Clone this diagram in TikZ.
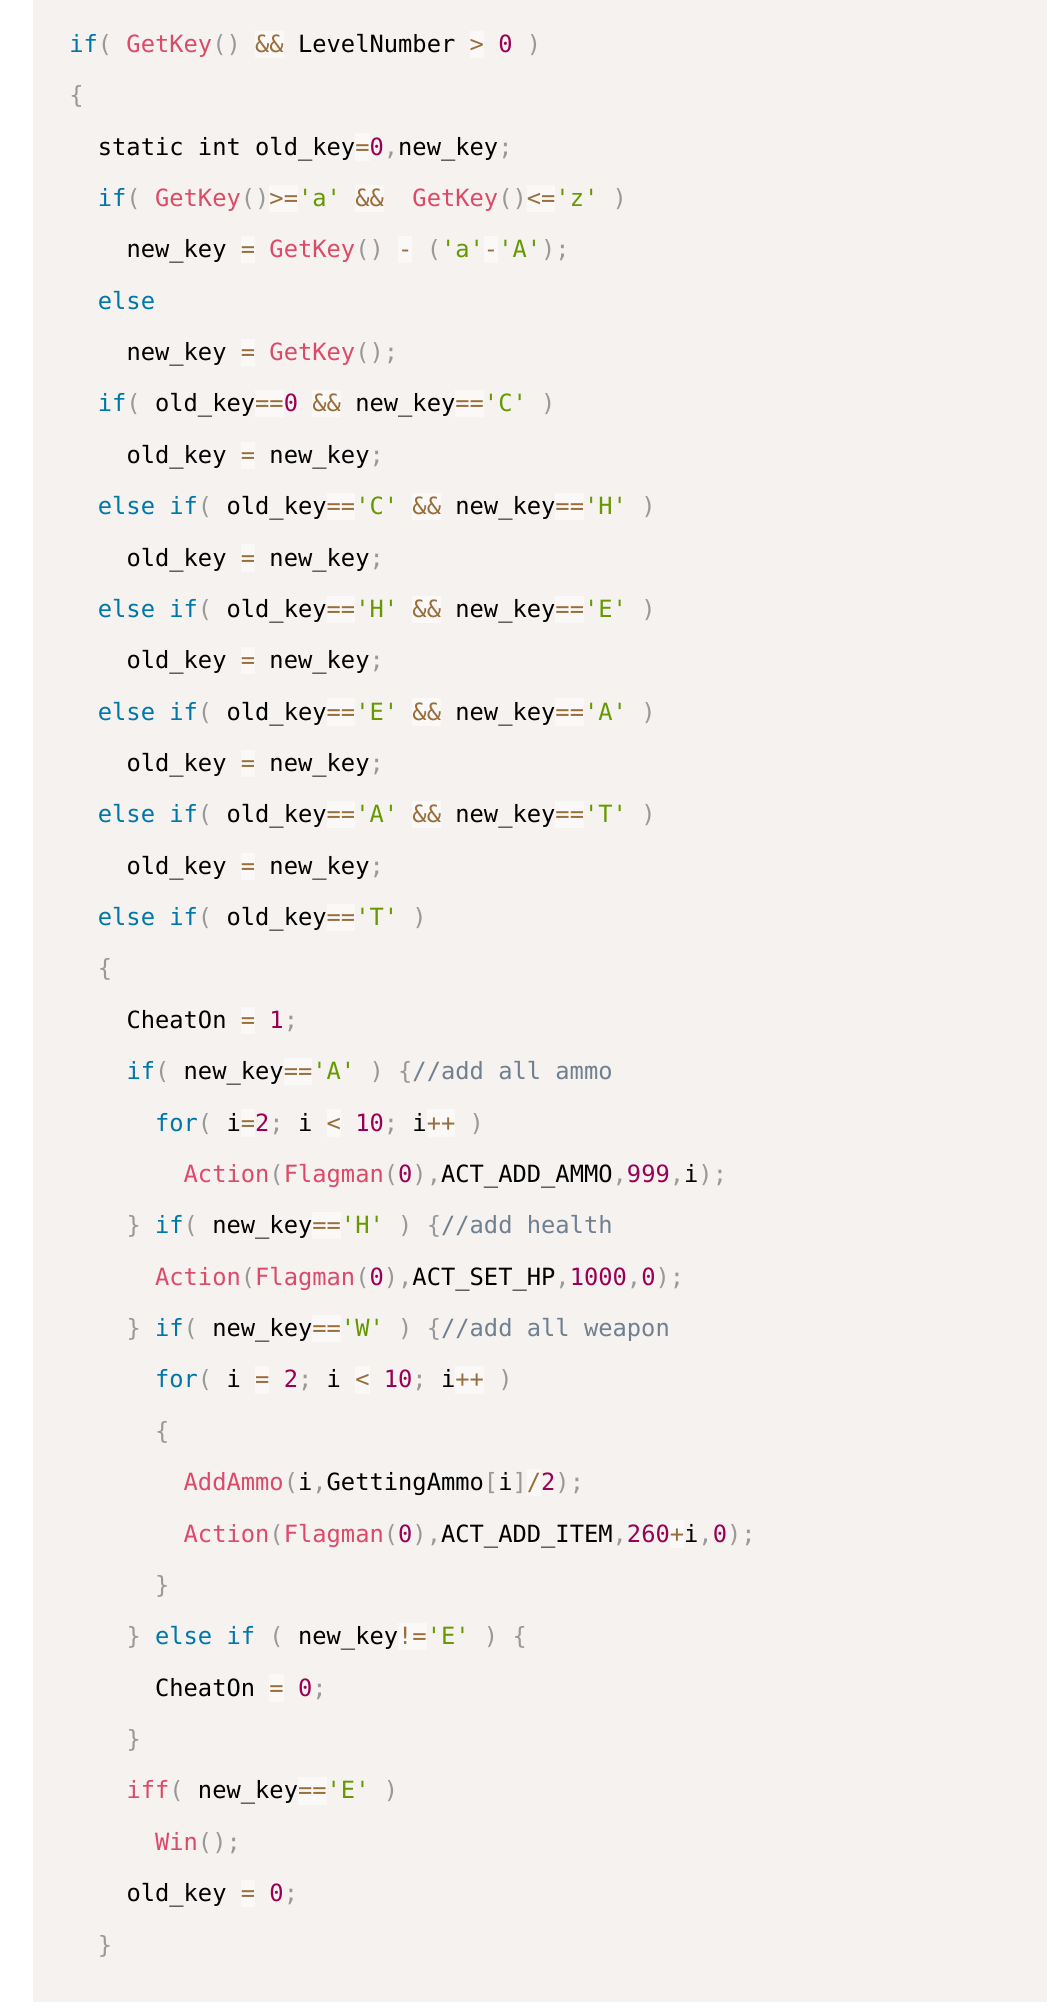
\documentclass[tikz,border=0pt]{standalone}
\usepackage{fontspec}
\setmonofont{DejaVu Sans Mono}
\definecolor{bgc}{HTML}{F5F2F0}
\definecolor{kwc}{HTML}{0077AA}
\definecolor{fnc}{HTML}{DD4A68}
\definecolor{numc}{HTML}{990055}
\definecolor{strc}{HTML}{669900}
\definecolor{opc}{HTML}{9A6E3A}
\definecolor{opbg}{HTML}{FAF9F8}
\definecolor{punc}{HTML}{999999}
\definecolor{comc}{HTML}{708090}
\newcommand\ckw[1]{\textcolor{kwc}{#1}}
\newcommand\cfn[1]{\textcolor{fnc}{#1}}
\newcommand\cnum[1]{\textcolor{numc}{#1}}
\newcommand\cstr[1]{\textcolor{strc}{#1}}
\newcommand\cpun[1]{\textcolor{punc}{#1}}
\newcommand\ccom[1]{\textcolor{comc}{#1}}
\newcommand\cop[1]{{\fboxsep=0pt\colorbox{opbg}{\rule[-5.6pt]{0pt}{27.3pt}\textcolor{opc}{#1}}}}
\newcommand\codeln[3]{\node[codeline] (l#1) at ({69.3+#2*28.6},{-52.3-(#1-1)*51.37}) {#3};}
\tikzset{codeline/.style={anchor=base west,inner sep=0pt,outer sep=0pt,text=black,font=\ttfamily\fontsize{23.75pt}{28pt}\selectfont}}
\begin{document}
\begin{tikzpicture}[x=1pt,y=1pt]
\useasboundingbox (0,0) rectangle (1052,-2008);
\fill[white] (0,0) rectangle (1052,-2008);
\fill[bgc] (32.5,0) rectangle (1046.7,-2002);
\codeln{1}{0}{\ckw{if}\cpun{(} \cfn{GetKey}\cpun{()} \cop{\&\&} LevelNumber \cop{>} \cnum{0} \cpun{)}}
\codeln{2}{0}{\cpun{\{}}
\codeln{3}{1}{static int old\_key\cop{=}\cnum{0}\cpun{,}new\_key\cpun{;}}
\codeln{4}{1}{\ckw{if}\cpun{(} \cfn{GetKey}\cpun{()}\cop{>=}\cstr{'a'} \cop{\&\&}\ \ \cfn{GetKey}\cpun{()}\cop{<=}\cstr{'z'} \cpun{)}}
\codeln{5}{2}{new\_key \cop{=} \cfn{GetKey}\cpun{()} \cop{-} \cpun{(}\cstr{'a'}\cop{-}\cstr{'A'}\cpun{);}}
\codeln{6}{1}{\ckw{else}}
\codeln{7}{2}{new\_key \cop{=} \cfn{GetKey}\cpun{();}}
\codeln{8}{1}{\ckw{if}\cpun{(} old\_key\cop{==}\cnum{0} \cop{\&\&} new\_key\cop{==}\cstr{'C'} \cpun{)}}
\codeln{9}{2}{old\_key \cop{=} new\_key\cpun{;}}
\codeln{10}{1}{\ckw{else} \ckw{if}\cpun{(} old\_key\cop{==}\cstr{'C'} \cop{\&\&} new\_key\cop{==}\cstr{'H'} \cpun{)}}
\codeln{11}{2}{old\_key \cop{=} new\_key\cpun{;}}
\codeln{12}{1}{\ckw{else} \ckw{if}\cpun{(} old\_key\cop{==}\cstr{'H'} \cop{\&\&} new\_key\cop{==}\cstr{'E'} \cpun{)}}
\codeln{13}{2}{old\_key \cop{=} new\_key\cpun{;}}
\codeln{14}{1}{\ckw{else} \ckw{if}\cpun{(} old\_key\cop{==}\cstr{'E'} \cop{\&\&} new\_key\cop{==}\cstr{'A'} \cpun{)}}
\codeln{15}{2}{old\_key \cop{=} new\_key\cpun{;}}
\codeln{16}{1}{\ckw{else} \ckw{if}\cpun{(} old\_key\cop{==}\cstr{'A'} \cop{\&\&} new\_key\cop{==}\cstr{'T'} \cpun{)}}
\codeln{17}{2}{old\_key \cop{=} new\_key\cpun{;}}
\codeln{18}{1}{\ckw{else} \ckw{if}\cpun{(} old\_key\cop{==}\cstr{'T'} \cpun{)}}
\codeln{19}{1}{\cpun{\{}}
\codeln{20}{2}{CheatOn \cop{=} \cnum{1}\cpun{;}}
\codeln{21}{2}{\ckw{if}\cpun{(} new\_key\cop{==}\cstr{'A'} \cpun{)} \cpun{\{}\ccom{//add all ammo}}
\codeln{22}{3}{\ckw{for}\cpun{(} i\cop{=}\cnum{2}\cpun{;} i \cop{<} \cnum{10}\cpun{;} i\cop{++} \cpun{)}}
\codeln{23}{4}{\cfn{Action}\cpun{(}\cfn{Flagman}\cpun{(}\cnum{0}\cpun{),}ACT\_ADD\_AMMO\cpun{,}\cnum{999}\cpun{,}i\cpun{);}}
\codeln{24}{2}{\cpun{\}} \ckw{if}\cpun{(} new\_key\cop{==}\cstr{'H'} \cpun{)} \cpun{\{}\ccom{//add health}}
\codeln{25}{3}{\cfn{Action}\cpun{(}\cfn{Flagman}\cpun{(}\cnum{0}\cpun{),}ACT\_SET\_HP\cpun{,}\cnum{1000}\cpun{,}\cnum{0}\cpun{);}}
\codeln{26}{2}{\cpun{\}} \ckw{if}\cpun{(} new\_key\cop{==}\cstr{'W'} \cpun{)} \cpun{\{}\ccom{//add all weapon}}
\codeln{27}{3}{\ckw{for}\cpun{(} i \cop{=} \cnum{2}\cpun{;} i \cop{<} \cnum{10}\cpun{;} i\cop{++} \cpun{)}}
\codeln{28}{3}{\cpun{\{}}
\codeln{29}{4}{\cfn{AddAmmo}\cpun{(}i\cpun{,}GettingAmmo\cpun{[}i\cpun{]}\cop{/}\cnum{2}\cpun{);}}
\codeln{30}{4}{\cfn{Action}\cpun{(}\cfn{Flagman}\cpun{(}\cnum{0}\cpun{),}ACT\_ADD\_ITEM\cpun{,}\cnum{260}\cop{+}i\cpun{,}\cnum{0}\cpun{);}}
\codeln{31}{3}{\cpun{\}}}
\codeln{32}{2}{\cpun{\}} \ckw{else} \ckw{if} \cpun{(} new\_key\cop{!=}\cstr{'E'} \cpun{)} \cpun{\{}}
\codeln{33}{3}{CheatOn \cop{=} \cnum{0}\cpun{;}}
\codeln{34}{2}{\cpun{\}}}
\codeln{35}{2}{\cfn{iff}\cpun{(} new\_key\cop{==}\cstr{'E'} \cpun{)}}
\codeln{36}{3}{\cfn{Win}\cpun{();}}
\codeln{37}{2}{old\_key \cop{=} \cnum{0}\cpun{;}}
\codeln{38}{1}{\cpun{\}}}
\end{tikzpicture}
\end{document}
